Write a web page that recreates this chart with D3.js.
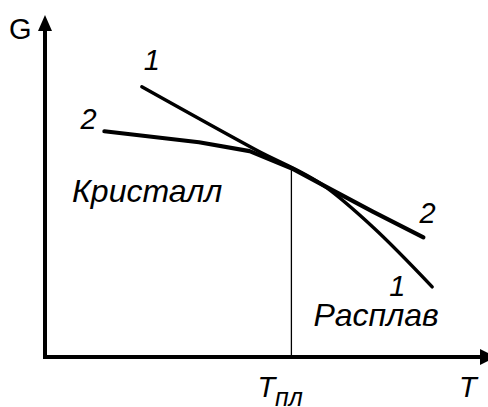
<!DOCTYPE html>
<html>
<head>
<meta charset="utf-8">
<script src="https://cdn.jsdelivr.net/npm/d3@7"></script>
<style>
  html, body { margin: 0; padding: 0; background: #fff; }
  svg { display: block; }
  text { font-family: "Liberation Sans", Arial, sans-serif; fill: #000; }
</style>
</head>
<body>
<div id="chart"></div>
<script>
// curve 1 - melt, curve 2 - crystal (T, G in arbitrary units)
var melt_T = [22, 48, 64, 74.5, 88];
var melt_G = [79, 60.5, 49.5, 38, 20.5];
var cryst_T = [13.5, 35, 46.5, 56, 65, 74.5, 86];
var cryst_G = [66, 62.8, 60.2, 55.2, 49, 42.5, 35];
var t_melt = 56;
var regionNames = ["Кристалл", "Расплав"];

var width = 488,
    height = 407;

var x = d3.scaleLinear().domain([0, 100]).range([45, 485]);
var y = d3.scaleLinear().domain([0, 100]).range([357, 15]);

var svg = d3.select("#chart").append("svg")
    .attr("width", width)
    .attr("height", height);

function zip(ts, gs) {
  return ts.map(function(t, i) { return { t: t, g: gs[i] }; });
}
var melt = zip(melt_T, melt_G),
    cryst = zip(cryst_T, cryst_G);

var line = d3.line()
    .x(function(d) { return x(d.t); })
    .y(function(d) { return y(d.g); });

// axes with arrows
svg.append("line")
    .attr("x1", x(0)).attr("y1", y(0))
    .attr("x2", x(0)).attr("y2", y(100) + 12)
    .attr("stroke", "#000").attr("stroke-width", 4);
svg.append("path")
    .attr("d", "M" + x(0) + "," + y(100) + "l-7,16l14,0z")
    .attr("fill", "#000");

svg.append("line")
    .attr("x1", x(0) - 2).attr("y1", y(0))
    .attr("x2", width - 5).attr("y2", y(0))
    .attr("stroke", "#000").attr("stroke-width", 4);
svg.append("path")
    .attr("d", "M" + (width + 8) + "," + y(0) + "l-16,-8l0,16z")
    .attr("fill", "#000");

// melting temperature
svg.append("line")
    .attr("x1", x(t_melt)).attr("y1", y(0))
    .attr("x2", x(t_melt)).attr("y2", y(cryst_G[3]))
    .attr("stroke", "#000").attr("stroke-width", 1.3);

svg.append("path").datum(cryst)
    .attr("d", line.curve(d3.curveLinear))
    .attr("fill", "none").attr("stroke", "#000")
    .attr("stroke-width", 4.2).attr("stroke-linecap", "round")
    .attr("stroke-linejoin", "round");

svg.append("path").datum(melt)
    .attr("d", line.curve(d3.curveMonotoneX))
    .attr("fill", "none").attr("stroke", "#000")
    .attr("stroke-width", 3.4).attr("stroke-linecap", "round");

// curve numbers at the ends
function label(px, py, txt, italic, size) {
  return svg.append("text")
      .attr("x", px).attr("y", py)
      .style("font-size", (size || 29) + "px")
      .style("font-style", italic ? "italic" : "normal")
      .text(txt);
}
var m0 = melt[0], m1 = melt[melt.length - 1],
    c0 = cryst[0], c1 = cryst[cryst.length - 1];
label(x(m0.t) + 2, y(m0.g) - 17, "1", true);
label(x(c0.t) - 24, y(c0.g) - 2, "2", true);
label(x(c1.t) - 4, y(c1.g) - 14, "2", true);
label(x(m1.t) - 43, y(m1.g) + 9, "1", true);

// regions
label(x(0) + 27, y(45.3), regionNames[0], true, 32);
label(x(t_melt) + 22, y(9.2), regionNames[1], true, 32);

// axis titles
label(x(0) - 36, 39, "G", false, 29);
label(width - 29, 397, "T", true, 29);
var tl = label(x(t_melt) - 34, 397, "T", true, 29);
tl.append("tspan").attr("dy", 9).style("font-size", "25px").text("пл");
</script>
</body>
</html>
